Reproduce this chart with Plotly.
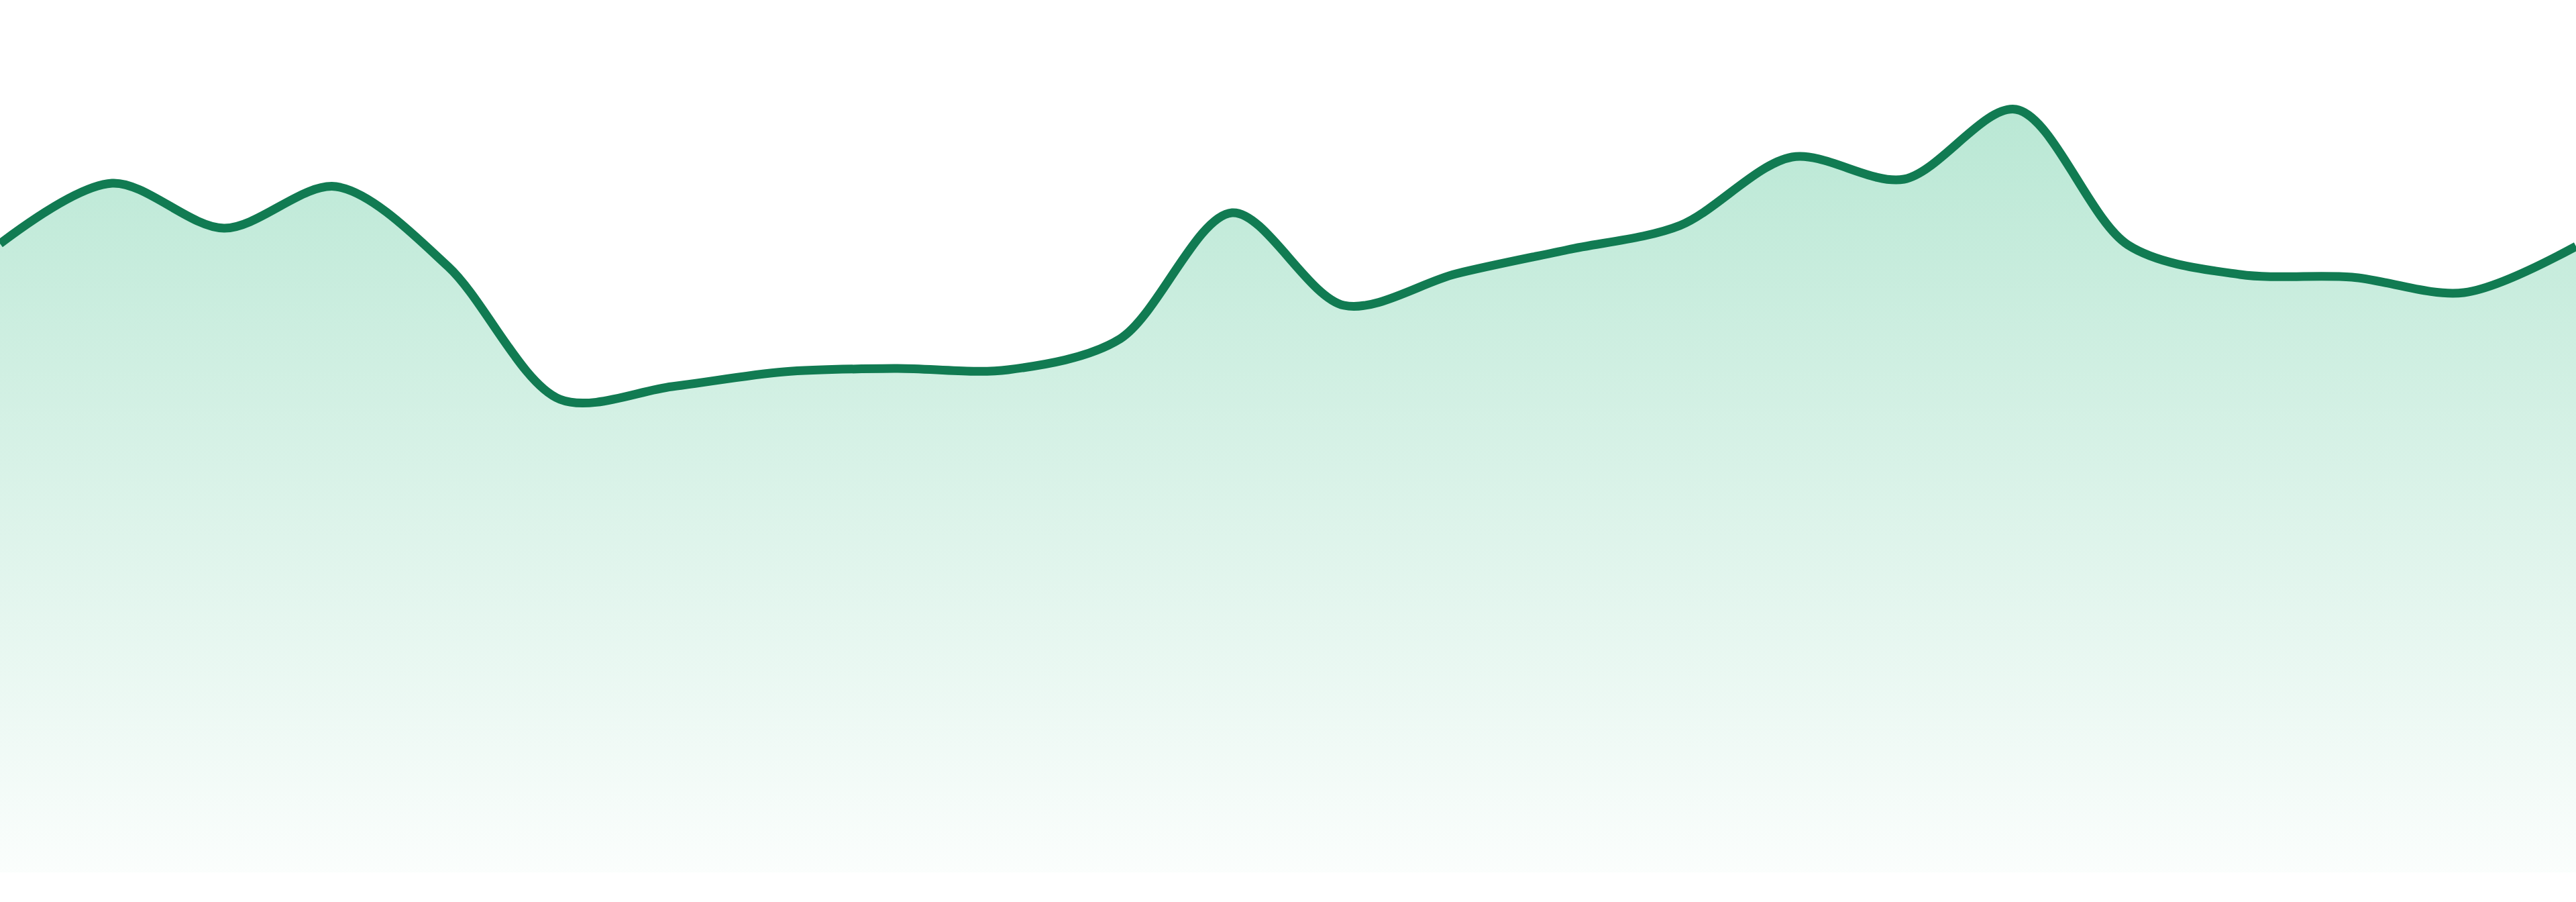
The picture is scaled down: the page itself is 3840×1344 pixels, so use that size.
import plotly.graph_objects as go

# data points (evenly spaced samples)
steps = list(range(24))
values = [93.7, 102.7, 96.0, 102.2, 90.3, 70.5, 72.4, 74.6, 75.1, 74.9, 79.5, 98.3,
          84.5, 89.2, 92.8, 96.4, 106.6, 103.3, 113.7, 93.5, 89.1, 88.7, 86.4, 93.3]

line_color = 'rgb(17,123,82)'
fill_top = 'rgba(38,182,122,0.32)'
fill_bottom = 'rgba(38,182,122,0.02)'

fig = go.Figure()
fig.add_trace(go.Scatter(x=steps,
                         y=values,
                         mode='lines',
                         line=dict(color=line_color, width=13, shape='spline', smoothing=0.9),
                         fill='tozeroy',
                         fillgradient=dict(type='vertical',
                                           colorscale=[[0, fill_bottom], [1, fill_top]]),
                         hoverinfo='skip',
                         showlegend=False))

fig.update_xaxes(range=[0, 23], visible=False, showgrid=False, zeroline=False)
fig.update_yaxes(range=[0, 130], visible=False, showgrid=False, zeroline=False)

fig.update_layout(width=3840, height=1344,
                  margin=dict(l=0, r=0, t=0, b=44),
                  paper_bgcolor='white',
                  plot_bgcolor='white')

fig.write_html("out.html", config={'displayModeBar': False},
               post_script="document.body.style.margin='0';")
